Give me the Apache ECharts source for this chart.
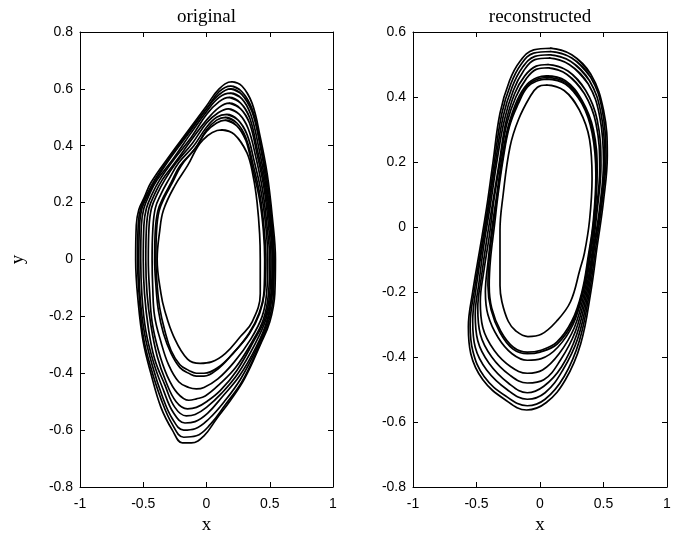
<!DOCTYPE html>
<html><head><meta charset="utf-8">
<script src="https://cdn.jsdelivr.net/npm/echarts@6/dist/echarts.min.js"></script>
<style>html,body{margin:0;padding:0;background:#fff}#c{width:681px;height:534px}</style>
</head><body><div id="c"></div>
<script>
// ---- tick labels ----
const xTicks = [-1, -0.5, 0, 0.5, 1];
const yTicksLeft = [-0.8, -0.6, -0.4, -0.2, 0, 0.2, 0.4, 0.6, 0.8];
const yTicksRight = [-0.8, -0.6, -0.4, -0.2, 0, 0.2, 0.4, 0.6];
const titles = ['original', 'reconstructed'];

// ---- "original" loops (x, y) ----
const orig1 = [[0.20,0.625],[0.28,0.61],[0.36,0.55],[0.425,0.43],[0.48,0.30],[0.52,0.15],[0.545,0.0],[0.54,-0.12],[0.50,-0.22],[0.425,-0.30],[0.30,-0.42],[0.19,-0.495],[0.08,-0.56],[-0.02,-0.62],[-0.12,-0.645],[-0.19,-0.645],[-0.27,-0.60],[-0.36,-0.52],[-0.44,-0.40],[-0.50,-0.29],[-0.54,-0.15],[-0.56,0.0],[-0.555,0.12],[-0.535,0.175],[-0.49,0.22],[-0.44,0.27],[-0.30,0.36],[-0.15,0.45],[0.0,0.54],[0.10,0.60]];
const orig2 = [[0.19,0.61],[0.28,0.59],[0.36,0.53],[0.42,0.42],[0.475,0.29],[0.515,0.14],[0.535,0.0],[0.53,-0.12],[0.49,-0.22],[0.41,-0.31],[0.28,-0.43],[0.15,-0.51],[0.03,-0.58],[-0.08,-0.62],[-0.18,-0.625],[-0.27,-0.58],[-0.36,-0.49],[-0.44,-0.38],[-0.50,-0.27],[-0.53,-0.14],[-0.545,0.0],[-0.54,0.12],[-0.52,0.18],[-0.47,0.23],[-0.41,0.28],[-0.29,0.36],[-0.14,0.45],[0.0,0.53],[0.10,0.59]];
const orig3 = [[0.19,0.60],[0.28,0.58],[0.36,0.52],[0.42,0.41],[0.47,0.28],[0.51,0.13],[0.53,0.0],[0.52,-0.12],[0.48,-0.22],[0.40,-0.31],[0.27,-0.42],[0.14,-0.50],[0.02,-0.56],[-0.09,-0.595],[-0.18,-0.60],[-0.27,-0.56],[-0.35,-0.48],[-0.43,-0.37],[-0.49,-0.26],[-0.525,-0.13],[-0.535,0.0],[-0.53,0.12],[-0.51,0.18],[-0.46,0.23],[-0.40,0.28],[-0.28,0.36],[-0.13,0.45],[0.0,0.53],[0.10,0.58]];
const orig4 = [[0.19,0.585],[0.28,0.565],[0.35,0.51],[0.41,0.40],[0.465,0.27],[0.505,0.13],[0.525,0.0],[0.515,-0.12],[0.475,-0.22],[0.39,-0.31],[0.26,-0.41],[0.13,-0.48],[0.01,-0.54],[-0.09,-0.57],[-0.17,-0.575],[-0.26,-0.54],[-0.34,-0.46],[-0.42,-0.36],[-0.48,-0.25],[-0.51,-0.13],[-0.52,0.0],[-0.515,0.12],[-0.495,0.18],[-0.45,0.23],[-0.39,0.28],[-0.27,0.35],[-0.13,0.44],[0.0,0.52],[0.10,0.57]];
const orig5 = [[0.18,0.57],[0.27,0.55],[0.34,0.50],[0.40,0.39],[0.46,0.26],[0.50,0.12],[0.52,0.0],[0.51,-0.12],[0.47,-0.21],[0.38,-0.30],[0.25,-0.40],[0.12,-0.47],[0.0,-0.52],[-0.09,-0.545],[-0.16,-0.55],[-0.25,-0.52],[-0.33,-0.44],[-0.41,-0.35],[-0.46,-0.24],[-0.49,-0.12],[-0.50,0.0],[-0.495,0.12],[-0.475,0.18],[-0.43,0.23],[-0.37,0.28],[-0.26,0.35],[-0.12,0.43],[0.0,0.51],[0.10,0.555]];
const orig6 = [[0.18,0.55],[0.27,0.53],[0.34,0.48],[0.40,0.37],[0.455,0.25],[0.49,0.12],[0.51,0.0],[0.50,-0.12],[0.46,-0.21],[0.37,-0.29],[0.24,-0.39],[0.11,-0.46],[0.0,-0.50],[-0.08,-0.52],[-0.15,-0.525],[-0.24,-0.50],[-0.32,-0.43],[-0.39,-0.34],[-0.44,-0.23],[-0.47,-0.12],[-0.48,0.0],[-0.475,0.11],[-0.455,0.18],[-0.41,0.23],[-0.35,0.28],[-0.25,0.34],[-0.12,0.42],[0.0,0.49],[0.10,0.535]];
const orig7 = [[0.17,0.53],[0.26,0.51],[0.33,0.46],[0.39,0.36],[0.445,0.24],[0.48,0.11],[0.50,0.0],[0.49,-0.12],[0.45,-0.21],[0.36,-0.29],[0.23,-0.38],[0.10,-0.44],[-0.01,-0.48],[-0.08,-0.49],[-0.14,-0.495],[-0.23,-0.47],[-0.31,-0.41],[-0.38,-0.32],[-0.43,-0.22],[-0.45,-0.11],[-0.46,0.0],[-0.455,0.11],[-0.435,0.18],[-0.39,0.23],[-0.33,0.28],[-0.24,0.34],[-0.11,0.41],[0.0,0.48],[0.09,0.515]];
const orig8 = [[0.16,0.51],[0.25,0.49],[0.32,0.44],[0.38,0.34],[0.435,0.23],[0.47,0.11],[0.485,0.0],[0.475,-0.12],[0.44,-0.20],[0.35,-0.28],[0.22,-0.36],[0.09,-0.42],[-0.02,-0.45],[-0.08,-0.455],[-0.14,-0.45],[-0.22,-0.43],[-0.30,-0.37],[-0.36,-0.29],[-0.41,-0.20],[-0.425,-0.10],[-0.43,0.0],[-0.425,0.10],[-0.405,0.18],[-0.36,0.23],[-0.30,0.28],[-0.22,0.34],[-0.10,0.40],[0.0,0.465],[0.08,0.50]];
const orig9 = [[0.15,0.50],[0.24,0.48],[0.31,0.43],[0.37,0.33],[0.425,0.22],[0.455,0.11],[0.47,0.0],[0.46,-0.11],[0.42,-0.19],[0.34,-0.26],[0.21,-0.33],[0.09,-0.385],[-0.02,-0.41],[-0.08,-0.41],[-0.14,-0.40],[-0.21,-0.38],[-0.28,-0.33],[-0.34,-0.26],[-0.38,-0.18],[-0.40,-0.09],[-0.41,0.0],[-0.405,0.10],[-0.385,0.17],[-0.34,0.22],[-0.28,0.27],[-0.21,0.33],[-0.09,0.39],[0.0,0.455],[0.08,0.49]];
const orig10 = [[0.15,0.49],[0.24,0.47],[0.31,0.42],[0.365,0.32],[0.42,0.21],[0.45,0.10],[0.46,0.0],[0.455,-0.11],[0.415,-0.19],[0.335,-0.26],[0.21,-0.33],[0.09,-0.38],[-0.02,-0.40],[-0.08,-0.40],[-0.14,-0.39],[-0.21,-0.37],[-0.28,-0.32],[-0.33,-0.25],[-0.37,-0.17],[-0.39,-0.09],[-0.40,0.0],[-0.395,0.10],[-0.375,0.17],[-0.33,0.22],[-0.27,0.27],[-0.20,0.33],[-0.09,0.39],[0.0,0.45],[0.08,0.48]];
const orig11 = [[0.12,0.456],[0.22,0.44],[0.32,0.375],[0.37,0.29],[0.40,0.20],[0.42,0.09],[0.425,0.0],[0.425,-0.12],[0.36,-0.22],[0.27,-0.27],[0.15,-0.33],[0.04,-0.36],[-0.05,-0.365],[-0.15,-0.35],[-0.26,-0.27],[-0.33,-0.18],[-0.36,-0.12],[-0.39,0.0],[-0.37,0.10],[-0.34,0.174],[-0.25,0.26],[-0.15,0.33],[-0.03,0.42]];

// ---- "reconstructed" loops (x, y) ----
const recon1 = [[0.08,0.55],[0.25,0.53],[0.40,0.47],[0.50,0.36],[0.53,0.22],[0.50,0.08],[0.45,-0.06],[0.40,-0.20],[0.32,-0.36],[0.20,-0.47],[0.05,-0.54],[-0.105,-0.563],[-0.28,-0.53],[-0.45,-0.47],[-0.545,-0.39],[-0.564,-0.307],[-0.53,-0.20],[-0.47,-0.06],[-0.42,0.06],[-0.37,0.20],[-0.315,0.35],[-0.24,0.45],[-0.157,0.51],[-0.05,0.545]];
const recon2 = [[0.08,0.54],[0.25,0.52],[0.40,0.46],[0.49,0.36],[0.52,0.22],[0.49,0.08],[0.44,-0.06],[0.39,-0.20],[0.31,-0.35],[0.19,-0.46],[0.04,-0.53],[-0.10,-0.55],[-0.27,-0.52],[-0.44,-0.46],[-0.53,-0.38],[-0.55,-0.30],[-0.515,-0.19],[-0.46,-0.06],[-0.41,0.06],[-0.36,0.20],[-0.30,0.35],[-0.23,0.44],[-0.15,0.50],[-0.05,0.535]];
const recon3 = [[0.07,0.53],[0.24,0.51],[0.39,0.45],[0.48,0.35],[0.51,0.21],[0.48,0.07],[0.43,-0.06],[0.38,-0.20],[0.30,-0.34],[0.18,-0.44],[0.04,-0.51],[-0.10,-0.53],[-0.26,-0.50],[-0.42,-0.44],[-0.51,-0.37],[-0.53,-0.29],[-0.50,-0.18],[-0.45,-0.05],[-0.40,0.07],[-0.35,0.20],[-0.29,0.34],[-0.22,0.43],[-0.14,0.49],[-0.04,0.525]];
const recon4 = [[0.07,0.52],[0.23,0.50],[0.38,0.44],[0.47,0.34],[0.50,0.20],[0.47,0.06],[0.42,-0.07],[0.37,-0.20],[0.29,-0.33],[0.17,-0.43],[0.03,-0.49],[-0.10,-0.51],[-0.25,-0.48],[-0.40,-0.42],[-0.49,-0.35],[-0.51,-0.27],[-0.48,-0.17],[-0.44,-0.05],[-0.39,0.07],[-0.34,0.20],[-0.28,0.33],[-0.21,0.42],[-0.13,0.48],[-0.04,0.515]];
const recon5 = [[0.06,0.50],[0.22,0.48],[0.36,0.42],[0.45,0.33],[0.48,0.19],[0.45,0.05],[0.41,-0.08],[0.36,-0.20],[0.28,-0.32],[0.16,-0.41],[0.03,-0.47],[-0.10,-0.48],[-0.24,-0.455],[-0.38,-0.40],[-0.47,-0.33],[-0.49,-0.25],[-0.46,-0.15],[-0.42,-0.04],[-0.37,0.08],[-0.32,0.20],[-0.27,0.32],[-0.20,0.41],[-0.12,0.465],[-0.03,0.495]];
const recon6 = [[0.06,0.49],[0.21,0.47],[0.35,0.41],[0.44,0.32],[0.47,0.18],[0.44,0.04],[0.40,-0.08],[0.35,-0.20],[0.27,-0.31],[0.15,-0.39],[0.02,-0.44],[-0.10,-0.45],[-0.23,-0.43],[-0.36,-0.38],[-0.45,-0.31],[-0.47,-0.23],[-0.44,-0.13],[-0.40,-0.03],[-0.36,0.09],[-0.31,0.21],[-0.26,0.32],[-0.19,0.40],[-0.11,0.455],[-0.03,0.485]];
const recon7 = [[0.05,0.465],[0.20,0.45],[0.33,0.39],[0.42,0.30],[0.45,0.17],[0.43,0.03],[0.39,-0.09],[0.34,-0.20],[0.26,-0.30],[0.14,-0.37],[0.01,-0.405],[-0.10,-0.41],[-0.22,-0.39],[-0.33,-0.34],[-0.41,-0.27],[-0.43,-0.20],[-0.41,-0.11],[-0.38,-0.01],[-0.34,0.10],[-0.30,0.21],[-0.25,0.31],[-0.18,0.39],[-0.10,0.44],[-0.02,0.46]];
const recon8 = [[0.05,0.455],[0.20,0.44],[0.33,0.38],[0.41,0.29],[0.44,0.16],[0.42,0.02],[0.38,-0.09],[0.33,-0.20],[0.25,-0.29],[0.13,-0.355],[0.0,-0.38],[-0.10,-0.385],[-0.21,-0.37],[-0.31,-0.32],[-0.38,-0.25],[-0.40,-0.18],[-0.39,-0.10],[-0.36,0.0],[-0.33,0.10],[-0.29,0.21],[-0.24,0.31],[-0.17,0.38],[-0.10,0.43],[-0.02,0.45]];
const recon9 = [[0.05,0.46],[0.20,0.445],[0.33,0.385],[0.415,0.295],[0.445,0.165],[0.425,0.025],[0.385,-0.09],[0.335,-0.20],[0.255,-0.295],[0.135,-0.36],[0.0,-0.385],[-0.10,-0.39],[-0.215,-0.375],[-0.315,-0.325],[-0.385,-0.255],[-0.41,-0.18],[-0.40,-0.10],[-0.37,0.0],[-0.335,0.10],[-0.295,0.21],[-0.245,0.31],[-0.175,0.385],[-0.10,0.435],[-0.02,0.455]];
const recon10 = [[0.05,0.437],[0.19,0.42],[0.31,0.36],[0.39,0.27],[0.41,0.15],[0.39,0.02],[0.35,-0.08],[0.315,-0.13],[0.24,-0.23],[0.13,-0.29],[0.01,-0.33],[-0.095,-0.337],[-0.19,-0.32],[-0.25,-0.29],[-0.30,-0.23],[-0.315,-0.18],[-0.315,-0.10],[-0.315,-0.01],[-0.29,0.10],[-0.236,0.247],[-0.17,0.33],[-0.08,0.40],[-0.02,0.43]];

const origLoops = [orig1, orig2, orig3, orig4, orig5, orig6, orig7, orig8, orig9, orig10, orig11];
const reconLoops = [recon1, recon2, recon3, recon4, recon5, recon6, recon7, recon8, recon9, recon10];

// ---- layout ----
const fmt = v => String(+(+v).toFixed(2));
const tickFont = {fontFamily: '"Liberation Sans", Arial, sans-serif', fontSize: 14, color: '#000'};
const nameFont = {fontFamily: '"Liberation Serif", "Times New Roman", serif', fontSize: 19, color: '#000'};
const lineStyle = {color: '#000', width: 1};
const grids = [
  {left: 80, top: 32, width: 253, height: 455, outerBoundsMode: 'none', containLabel: false},
  {left: 413, top: 32, width: 254, height: 455, outerBoundsMode: 'none', containLabel: false}
];

function xAxes(gi) {
  return [
    {gridIndex: gi, type: 'value', min: -1, max: 1, interval: 0.5, position: 'bottom',
     axisLine: {show: true, onZero: false, lineStyle}, axisTick: {show: true, inside: true, length: 5, lineStyle},
     axisLabel: Object.assign({formatter: fmt, margin: 10}, tickFont), splitLine: {show: false},
     name: 'x', nameLocation: 'middle', nameGap: 26, nameTextStyle: nameFont},
    {gridIndex: gi, type: 'value', min: -1, max: 1, interval: 0.5, position: 'top',
     axisLine: {show: true, onZero: false, lineStyle}, axisTick: {show: true, inside: true, length: 5, lineStyle},
     axisLabel: {show: false}, splitLine: {show: false},
     name: titles[gi], nameLocation: 'middle', nameGap: 5, nameTextStyle: nameFont}
  ];
}
function yAxes(gi, min, max, withName) {
  return [
    {gridIndex: gi, type: 'value', min, max, interval: 0.2, position: 'left',
     axisLine: {show: true, onZero: false, lineStyle}, axisTick: {show: true, inside: true, length: 5, lineStyle},
     axisLabel: Object.assign({formatter: fmt, margin: 7}, tickFont), splitLine: {show: false},
     name: withName ? 'y' : '', nameLocation: 'middle', nameGap: 52, nameTextStyle: nameFont},
    {gridIndex: gi, type: 'value', min, max, interval: 0.2, position: 'right',
     axisLine: {show: true, onZero: false, lineStyle}, axisTick: {show: true, inside: true, length: 5, lineStyle},
     axisLabel: {show: false}, splitLine: {show: false}}
  ];
}

const series = [];
function addLoops(loops, xi, yi) {
  loops.forEach(loop => {
    series.push({
      type: 'line', xAxisIndex: xi, yAxisIndex: yi,
      data: loop.concat(loop.slice(0, 3)),
      smooth: 0.4, showSymbol: false, symbol: 'none',
      lineStyle: {color: '#000', width: 1.7}, silent: true, animation: false
    });
  });
}
addLoops(origLoops, 0, 0);
addLoops(reconLoops, 2, 2);

const chart = echarts.init(document.getElementById('c'), null, {renderer: 'canvas'});
chart.setOption({
  animation: false,
  backgroundColor: '#fff',
  grid: grids,
  xAxis: xAxes(0).concat(xAxes(1)),
  yAxis: yAxes(0, yTicksLeft[0], yTicksLeft[yTicksLeft.length - 1], true)
    .concat(yAxes(1, yTicksRight[0], yTicksRight[yTicksRight.length - 1], false)),
  series
});
</script></body></html>
